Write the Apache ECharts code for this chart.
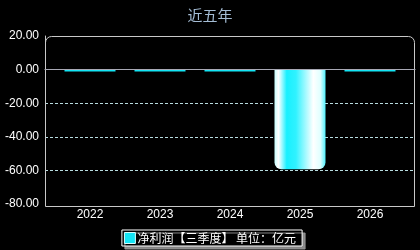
<!DOCTYPE html>
<html>
<head>
<meta charset="utf-8" />
<title></title>
<script type="text/javascript" src="https://cdn.jsdelivr.net/npm/echarts@6/dist/echarts.min.js"></script>
<style>
html, body { margin: 0; padding: 0; background: #000; }
</style>
</head>
<body>
<div id="main" style="width: 420px;height: 250px;"></div>
<script type="text/javascript">
var years = ['2022', '2023', '2024', '2025', '2026'];
var profit = [-1.2, -1.2, -1.2, -59.3, -1.2];
var yMax = 20, yMin = -80, yStep = 20;

var chart = echarts.init(document.getElementById('main'));
var barColor = new echarts.graphic.LinearGradient(0, 0, 1, 0, [
	{ offset: 0, color: '#c8ffff' },
	{ offset: 0.08, color: '#ffffff' },
	{ offset: 0.24, color: '#18f0ff' },
	{ offset: 0.42, color: '#30f2ff' },
	{ offset: 0.76, color: '#ffffff' },
	{ offset: 0.9, color: '#e0ffff' },
	{ offset: 1, color: '#50f2ff' }
]);

chart.setOption({
	backgroundColor: '#000',
	animation: false,
	title: {
		text: '近五年',
		left: 'center',
		top: 3,
		textStyle: {
			color: '#a4bcd4',
			fontSize: 15,
			fontWeight: 'normal',
			fontFamily: 'Noto Sans CJK SC'
		}
	},
	// grid 0: 边框和分隔线, grid 1: 柱子
	grid: [
		{ left: 45, right: 5, top: 36, bottom: 46 },
		{ left: 55, right: 15, top: 36, bottom: 46 }
	],
	graphic: [{
		type: 'rect',
		shape: { x: 45.5, y: 36.5, width: 369, height: 170, r: [6, 6, 0, 0] },
		style: { fill: 'none', stroke: '#c8c8c8', lineWidth: 1 },
		silent: true,
		z: 0
	}],
	legend: {
		bottom: 4,
		left: 'center',
		data: ['净利润【三季度】 单位：亿元'],
		icon: 'rect',
		itemWidth: 11,
		itemHeight: 11,
		itemStyle: { color: '#14e4f4', borderColor: '#d8ffff', borderWidth: 1 },
		padding: [2, 6, 2, 2],
		backgroundColor: '#000',
		borderColor: '#ffffff',
		borderWidth: 1,
		borderRadius: 0,
		shadowColor: 'rgba(150,150,150,0.9)',
		shadowOffsetX: 3,
		shadowOffsetY: 3,
		shadowBlur: 0,
		textStyle: {
			color: '#fff',
			fontSize: 12,
			fontFamily: 'Noto Sans CJK SC',
			padding: [0, 0, 0, -3]
		}
	},
	xAxis: [{
		type: 'category',
		gridIndex: 0,
		data: years,
		axisLine: { lineStyle: { color: '#c8c8c8' } },
		axisTick: { show: false },
		axisLabel: { show: false }
	}, {
		type: 'category',
		gridIndex: 1,
		data: years,
		axisLine: { show: false },
		axisTick: { show: false },
		axisLabel: { color: '#fff', fontSize: 12, fontFamily: 'Liberation Sans', margin: 5 }
	}],
	yAxis: [{
		type: 'value',
		gridIndex: 0,
		max: yMax,
		min: yMin,
		interval: yStep,
		axisLine: { show: true, lineStyle: { color: '#c8c8c8' } },
		axisTick: { show: false },
		axisLabel: {
			color: '#fff',
			fontSize: 12,
			fontFamily: 'Liberation Sans',
			margin: 6,
			formatter: function (v) { return v.toFixed(2); }
		},
		splitLine: {
			show: true,
			showMaxLine: false,
			showMinLine: false,
			lineStyle: { color: '#b8dce0', type: [3, 2], width: 1 }
		}
	}, {
		type: 'value',
		gridIndex: 1,
		max: yMax,
		min: yMin,
		interval: yStep,
		show: false
	}],
	series: [{
		name: '净利润【三季度】 单位：亿元',
		type: 'bar',
		xAxisIndex: 0,
		yAxisIndex: 0,
		data: [],
		itemStyle: { color: '#14e4f4' },
		markLine: {
			silent: true,
			symbol: 'none',
			label: { show: false },
			lineStyle: { color: '#a8a8b4', type: 'solid', width: 1 },
			data: [{ yAxis: 0 }]
		}
	}, {
		name: '净利润【三季度】 单位：亿元',
		type: 'bar',
		xAxisIndex: 1,
		yAxisIndex: 1,
		barWidth: 51,
		z: 3,
		data: profit.map(function (v) {
			// 很小的柱子在原图里是纯色
			return Math.abs(v) < 3
				? { value: v, itemStyle: { color: '#14e4f4', borderRadius: 0 } }
				: v;
		}),
		itemStyle: {
			color: barColor,
			borderRadius: [0, 0, 7, 7]
		}
	}]
});
</script>
</body>
</html>
